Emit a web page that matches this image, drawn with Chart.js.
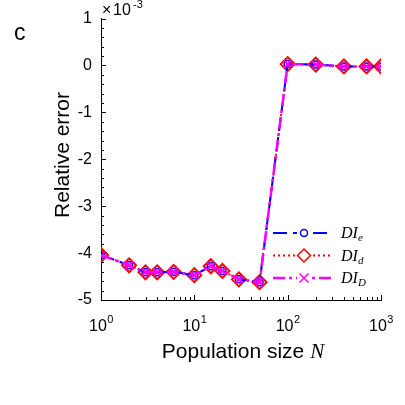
<!DOCTYPE html>
<html>
<head>
<meta charset="utf-8">
<script src="https://cdn.jsdelivr.net/npm/chart.js@4/dist/chart.umd.min.js"></script>
<style>
  html, body { margin: 0; padding: 0; background: #fff; }
  #wrap { width: 405px; height: 405px; }
</style>
</head>
<body>
<div id="wrap"><canvas id="c"></canvas></div>
<script>
// population sizes N
const popSize = [1, 2, 3, 4, 6, 10, 15, 20, 30, 50, 100, 200, 400, 700, 1000];
// relative error, units of 1e-3
const diE = [-4.04, -4.26, -4.41, -4.41, -4.40, -4.47, -4.28, -4.38, -4.56, -4.62, 0.03, 0.02, -0.02, -0.02, -0.02];
const diD = [-4.04, -4.26, -4.41, -4.41, -4.40, -4.47, -4.28, -4.38, -4.56, -4.62, 0.03, 0.02, -0.02, -0.02, -0.02];
const diDD = [-4.04, -4.26, -4.41, -4.41, -4.40, -4.47, -4.28, -4.38, -4.56, -4.62, 0.03, 0.02, -0.02, -0.02, -0.02];
const yTicks = [1, 0, -1, -2, -3, -4, -5];
const xTicks = [1, 10, 100, 1000];

const legendItems = [
  { sub: 'e', color: '#0000ff', dash: [14, 6], width: 2, marker: 'circle' },
  { sub: 'd', color: '#ff0000', dash: [2, 3], width: 2, marker: 'diamond' },
  { sub: 'D', color: '#ff00ff', dash: [12, 4, 3, 4], width: 2.5, marker: 'cross' }
];

function pts(arr) { return popSize.map((n, i) => ({ x: n, y: arr[i] })); }

const sans = '"Liberation Sans", Arial, sans-serif';
const serif = '"Liberation Serif", "Times New Roman", serif';

function drawMarker(ctx, type, x, y, color) {
  ctx.save();
  ctx.setLineDash([]);
  ctx.strokeStyle = color;
  ctx.lineWidth = 1.5;
  ctx.beginPath();
  if (type === 'circle') {
    ctx.arc(x, y, 3.5, 0, Math.PI * 2);
  } else if (type === 'diamond') {
    ctx.moveTo(x, y - 6.5); ctx.lineTo(x + 6.5, y); ctx.lineTo(x, y + 6.5); ctx.lineTo(x - 6.5, y); ctx.closePath();
  } else {
    ctx.moveTo(x - 4.5, y - 4.5); ctx.lineTo(x + 4.5, y + 4.5);
    ctx.moveTo(x + 4.5, y - 4.5); ctx.lineTo(x - 4.5, y + 4.5);
  }
  ctx.stroke();
  ctx.restore();
}

const decor = {
  id: 'decor',
  afterDraw(chart) {
    const ctx = chart.ctx;
    const xs = chart.scales.x, ys = chart.scales.y;
    const a = chart.chartArea;
    ctx.save();
    ctx.strokeStyle = '#000';
    ctx.lineWidth = 1;
    ctx.setLineDash([]);
    // y ticks, inward
    ctx.beginPath();
    for (let v = -5; v <= 1.0001; v += 0.2) {
      const y = Math.round(ys.getPixelForValue(v)) + 0.5;
      const major = Math.abs(v - Math.round(v)) < 1e-6;
      ctx.moveTo(a.left, y); ctx.lineTo(a.left + (major ? 5 : 3), y);
    }
    // x ticks, inward
    for (let d = 1; d <= 1000; d *= 10) {
      for (let m = 1; m <= 9; m++) {
        const v = d * m;
        if (v > 1000) break;
        const x = Math.round(xs.getPixelForValue(v)) + 0.5;
        ctx.moveTo(x, a.bottom); ctx.lineTo(x, a.bottom - (m === 1 ? 5 : 3));
      }
    }
    ctx.stroke();

    ctx.fillStyle = '#000';
    // x tick labels 10^k
    xTicks.forEach((v, k) => {
      const x = xs.getPixelForValue(v);
      ctx.font = '16px ' + sans;
      const w1 = ctx.measureText('10').width;
      ctx.font = '11px ' + sans;
      const w2 = ctx.measureText(String(k)).width;
      const x0 = x - (w1 + w2) / 2;
      ctx.font = '16px ' + sans;
      ctx.textAlign = 'left';
      ctx.textBaseline = 'alphabetic';
      ctx.fillText('10', x0, 331);
      ctx.font = '11px ' + sans;
      ctx.fillText(String(k), x0 + w1 + 0.5, 323);
    });

    // x title
    ctx.font = '21px ' + sans;
    const t1 = 'Population size ';
    const tw1 = ctx.measureText(t1).width;
    ctx.font = 'italic 21px ' + serif;
    const tw2 = ctx.measureText('N').width;
    const cx = 243;
    let sx = cx - (tw1 + tw2) / 2;
    ctx.font = '21px ' + sans;
    ctx.fillText(t1, sx, 358);
    ctx.font = 'italic 21px ' + serif;
    ctx.fillText('N', sx + tw1, 358);

    // y title
    ctx.save();
    ctx.translate(69, 155);
    ctx.rotate(-Math.PI / 2);
    ctx.font = '21px ' + sans;
    ctx.textAlign = 'center';
    ctx.fillText('Relative error', 0, 0);
    ctx.restore();

    // exponent
    ctx.textAlign = 'left';
    ctx.font = '16px ' + sans;
    ctx.fillText('\u00d7', 102, 15);
    ctx.fillText('10', 113, 15);
    ctx.font = '11px ' + sans;
    ctx.fillText('-3', 133, 8);

    // panel letter
    ctx.font = '23px ' + sans;
    ctx.fillText('c', 14, 40);

    // legend
    legendItems.forEach((it, i) => {
      const y = 233 + i * 22.5;
      ctx.save();
      ctx.strokeStyle = it.color;
      ctx.lineWidth = it.width;
      ctx.setLineDash(it.dash);
      ctx.beginPath();
      ctx.moveTo(273, y); ctx.lineTo(333, y);
      ctx.stroke();
      ctx.restore();
      ctx.save();
      ctx.fillStyle = '#fff';
      ctx.fillRect(297, y - 8, 14, 16);
      ctx.restore();
      drawMarker(ctx, it.marker, 304, y, it.color);
      ctx.fillStyle = '#000';
      ctx.font = 'italic 16px ' + serif;
      ctx.fillText('DI', 341, y + 5);
      const w = ctx.measureText('DI').width;
      ctx.font = 'italic 11px ' + serif;
      ctx.fillText(it.sub, 341 + w, y + 8);
    });
    ctx.restore();
  }
};

new Chart(document.getElementById('c'), {
  type: 'line',
  data: {
    datasets: [
      {
        label: 'DIe', data: pts(diE), order: 1,
        borderColor: '#0000ff', backgroundColor: 'transparent', borderWidth: 2,
        borderDash: [14, 6], pointStyle: 'circle', pointRadius: 3.5,
        pointBorderColor: '#0000ff', pointBorderWidth: 1.5, pointBackgroundColor: 'transparent'
      },
      {
        label: 'DId', data: pts(diD), order: 2,
        borderColor: '#ff0000', backgroundColor: 'transparent', borderWidth: 2,
        borderDash: [2, 3], pointStyle: 'rectRot', pointRadius: 7,
        pointBorderColor: '#ff0000', pointBorderWidth: 2, pointBackgroundColor: 'transparent'
      },
      {
        label: 'DID', data: pts(diDD), order: 0,
        borderColor: '#ff00ff', backgroundColor: 'transparent', borderWidth: 2.5,
        borderDash: [12, 4, 3, 4], pointStyle: 'crossRot', pointRadius: 5,
        pointBorderColor: '#ff00ff', pointBorderWidth: 2, pointBackgroundColor: 'transparent'
      }
    ]
  },
  options: {
    responsive: true,
    maintainAspectRatio: false,
    animation: false,
    layout: { padding: { top: 18, right: 24, left: 0, bottom: 0 } },
    plugins: { legend: { display: false }, tooltip: { enabled: false } },
    scales: {
      x: {
        type: 'logarithmic', min: 1, max: 1000,
        grid: { display: false, drawTicks: false },
        border: { display: true, color: '#000', width: 1 },
        ticks: { display: false },
        afterFit(s) { s.height = 105; }
      },
      y: {
        min: -5, max: 1,
        grid: { display: false, drawTicks: false },
        border: { display: true, color: '#000', width: 1 },
        ticks: {
          stepSize: 1, color: '#000', padding: 9,
          font: { family: sans, size: 16 },
          callback: v => String(v)
        },
        afterFit(s) { s.width = 101; }
      }
    }
  },
  plugins: [decor]
});
</script>
</body>
</html>
